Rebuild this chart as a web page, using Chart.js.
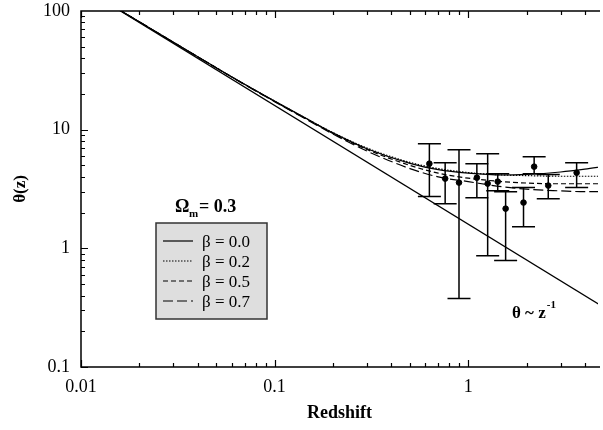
<!DOCTYPE html>
<html>
<head>
<meta charset="utf-8">
<script src="https://cdn.jsdelivr.net/npm/chart.js@4"></script>
<style>
  body { margin: 0; background: #fff; }
  canvas { display: block; }
</style>
</head>
<body>
<canvas id="chart" width="603" height="430"></canvas>
<script>
// model curves (redshift grid and theta for each beta)
const zModel = [0.015, 0.02, 0.03, 0.05, 0.07, 0.1, 0.15, 0.2, 0.3, 0.5, 0.7, 1, 1.5, 2, 3, 4, 5];
const thetaB00 = [107.5, 81, 54.5, 33.2, 24.1, 17.4, 12.1, 9.4, 6.9, 5.2, 4.6, 4.3, 4.15, 4.2, 4.4, 4.65, 4.9];
const thetaB02 = [107.5, 81, 54.5, 33.2, 24.1, 17.4, 12.1, 9.45, 7.0, 5.3, 4.7, 4.35, 4.15, 4.1, 4.05, 4.05, 4.05];
const thetaB05 = [107.5, 81, 54.5, 33.2, 24.1, 17.3, 12.0, 9.3, 6.8, 5.0, 4.3, 3.9, 3.65, 3.55, 3.5, 3.5, 3.5];
const thetaB07 = [107.5, 81, 54.5, 33.1, 24.0, 17.2, 11.9, 9.2, 6.6, 4.7, 4.0, 3.65, 3.3, 3.15, 3.05, 3.0, 3.0];

// theta ~ z^-1 reference line
const zLine = [0.015, 5];
const thetaLine = [106.7, 0.32];

// observed points with error bars
const zObs = [0.63, 0.76, 0.896, 1.108, 1.26, 1.42, 1.56, 1.93, 2.19, 2.59, 3.63];
const thetaObs = [5.17, 3.87, 3.58, 3.94, 3.51, 3.65, 2.16, 2.43, 4.88, 3.38, 4.34];
const thetaLo = [2.73, 2.38, 0.377, 2.67, 0.868, 3.06, 0.788, 1.52, 4.26, 2.62, 3.25];
const thetaHi = [7.62, 5.27, 6.78, 5.17, 6.28, 4.26, 3.0, 3.25, 5.92, 4.18, 5.27];

const xTicks = [0.01, 0.1, 1];
const yTicks = [0.1, 1, 10, 100];
const legendLabels = ['β = 0.0', 'β = 0.2', 'β = 0.5', 'β = 0.7'];

const serif = '"Liberation Serif", "Times New Roman", serif';
const pts = (xs, ys) => xs.map((v, i) => ({ x: v, y: ys[i] }));

const dashes = [[], [1.5, 1.5], [5, 3], [10, 4]];
const curves = [thetaB00, thetaB02, thetaB05, thetaB07];

const datasets = curves.map((c, i) => ({
  type: 'line',
  data: pts(zModel, c),
  borderColor: '#000',
  borderWidth: 1.2,
  borderDash: dashes[i],
  pointRadius: 0,
  cubicInterpolationMode: 'monotone'
}));
datasets.push({
  type: 'line',
  data: pts(zLine, thetaLine),
  borderColor: '#000',
  borderWidth: 1.3,
  pointRadius: 0
});
datasets.push({
  type: 'scatter',
  data: pts(zObs, thetaObs),
  backgroundColor: '#000',
  borderColor: '#000',
  pointRadius: 2.8
});

const decorations = {
  id: 'decorations',
  beforeDatasetsDraw(chart) {
    // error bars
    const { ctx, scales: { x, y } } = chart;
    ctx.save();
    ctx.strokeStyle = '#000';
    ctx.lineWidth = 1.5;
    zObs.forEach((z, i) => {
      const px = x.getPixelForValue(z);
      const top = y.getPixelForValue(thetaHi[i]);
      const bot = y.getPixelForValue(thetaLo[i]);
      ctx.beginPath();
      ctx.moveTo(px, top); ctx.lineTo(px, bot);
      ctx.moveTo(px - 11.5, top); ctx.lineTo(px + 11.5, top);
      ctx.moveTo(px - 11.5, bot); ctx.lineTo(px + 11.5, bot);
      ctx.stroke();
    });
    ctx.restore();
  },
  afterDatasetsDraw(chart) {
    const { ctx, chartArea: a, scales: { x, y } } = chart;
    ctx.save();
    ctx.strokeStyle = '#000';
    ctx.lineWidth = 1.5;
    ctx.beginPath();
    ctx.moveTo(a.right + 2, a.top); ctx.lineTo(a.left, a.top);
    ctx.lineTo(a.left, a.bottom); ctx.lineTo(a.right + 2, a.bottom);
    ctx.stroke();

    // inward tick marks
    ctx.lineWidth = 1.2;
    ctx.beginPath();
    for (let d = -2; d <= 0; d++) {
      for (let m = 1; m <= 9; m++) {
        const v = m * Math.pow(10, d);
        if (v > x.max) break;
        const px = Math.round(x.getPixelForValue(v)) + 0.5;
        const len = m === 1 ? 7 : 4;
        ctx.moveTo(px, a.bottom); ctx.lineTo(px, a.bottom - len);
        ctx.moveTo(px, a.top); ctx.lineTo(px, a.top + len);
      }
    }
    for (let d = -1; d <= 1; d++) {
      for (let m = 1; m <= 9; m++) {
        const v = m * Math.pow(10, d);
        const py = Math.round(y.getPixelForValue(v)) + 0.5;
        const len = m === 1 ? 7 : 4;
        ctx.moveTo(a.left, py); ctx.lineTo(a.left + len, py);
      }
    }
    ctx.stroke();

    // legend box
    ctx.fillStyle = '#dedede';
    ctx.fillRect(156, 223, 111, 96);
    ctx.strokeStyle = '#333';
    ctx.lineWidth = 1.5;
    ctx.strokeRect(156, 223, 111, 96);
    ctx.fillStyle = '#000';
    ctx.textBaseline = 'alphabetic';
    ctx.textAlign = 'left';
    legendLabels.forEach((lab, i) => {
      const by = 247 + i * 20;
      ctx.strokeStyle = '#000';
      ctx.lineWidth = 1.2;
      ctx.setLineDash(dashes[i]);
      ctx.beginPath();
      ctx.moveTo(163, by - 6); ctx.lineTo(193, by - 6);
      ctx.stroke();
      ctx.setLineDash([]);
      ctx.font = '17px ' + serif;
      ctx.fillText(lab, 202, by);
    });

    // Omega_m title
    ctx.font = 'bold 18px ' + serif;
    ctx.fillText('Ω', 175, 212);
    ctx.font = 'bold 11px ' + serif;
    ctx.fillText('m', 189, 217);
    ctx.font = 'bold 18px ' + serif;
    ctx.fillText('= 0.3', 199, 212);

    // theta ~ z^-1 note
    ctx.font = 'bold 17px ' + serif;
    const note = 'θ ~ z';
    ctx.fillText(note, 512, 318);
    const w = ctx.measureText(note).width;
    ctx.font = 'bold 11px ' + serif;
    ctx.fillText('-1', 512 + w + 1, 308);
    ctx.restore();
  }
};

new Chart(document.getElementById('chart'), {
  type: 'line',
  data: { datasets: datasets },
  options: {
    responsive: false,
    animation: false,
    devicePixelRatio: 1,
    layout: { padding: { top: 11, right: 0, left: 0, bottom: 0 } },
    plugins: { legend: { display: false }, tooltip: { enabled: false } },
    scales: {
      x: {
        type: 'logarithmic',
        min: 0.01,
        max: 4.68,
        grid: { display: false, drawTicks: false },
        border: { display: false },
        afterBuildTicks: s => { s.ticks = xTicks.map(v => ({ value: v })); },
        afterFit: s => { s.height = 63; s.paddingLeft = 0; s.paddingRight = 0; },
        ticks: {
          autoSkip: false, maxRotation: 0, padding: 9,
          color: '#000', font: { family: serif, size: 18 },
          callback: v => String(v)
        },
        title: {
          display: true, text: 'Redshift', color: '#000',
          font: { family: serif, size: 18, weight: 'bold' },
          padding: { top: 0, bottom: 6 }
        }
      },
      y: {
        type: 'logarithmic',
        min: 0.1,
        max: 100,
        grid: { display: false, drawTicks: false },
        border: { display: false },
        afterBuildTicks: s => { s.ticks = yTicks.map(v => ({ value: v })); },
        afterFit: s => { s.width = 81; s.paddingTop = 0; s.paddingBottom = 0; },
        ticks: {
          autoSkip: false, padding: 11,
          color: '#000', font: { family: serif, size: 18 },
          callback: v => String(v)
        },
        title: {
          display: true, text: 'θ(z)', color: '#000',
          font: { family: serif, size: 17, weight: 'bold' },
          padding: { top: 10, bottom: 0 }
        }
      }
    }
  },
  plugins: [decorations]
});
</script>
</body>
</html>
